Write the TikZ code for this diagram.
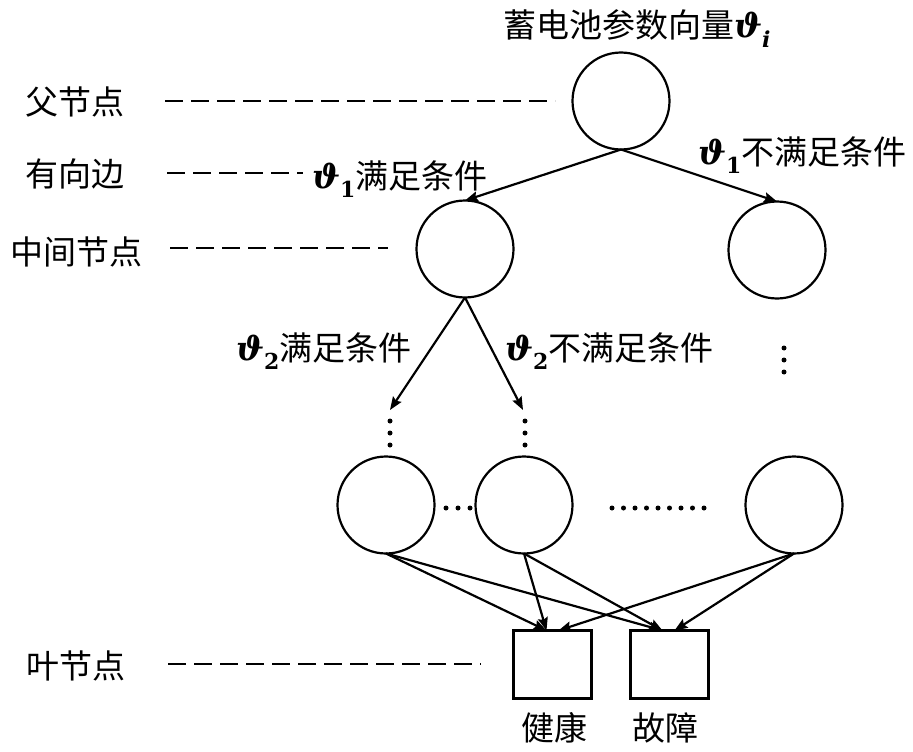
\documentclass[tikz,border=0pt]{standalone}
\usepackage[no-math]{fontspec}
\setmainfont{Noto Sans CJK SC}
\newfontfamily\thetafont{DejaVu Serif}
\newcommand{\thb}[1]{{\thetafont\bfseries\itshape ϑ}\raisebox{-0.3em}{\fontsize{22}{26}\selectfont\thetafont\bfseries #1}}
\usetikzlibrary{arrows.meta,calc}
\begin{document}
\begin{tikzpicture}[x=1pt,y=-1pt,
  every node/.style={inner sep=0pt, outer sep=0pt},
  tnode/.style={circle, draw, line width=2.2pt, minimum size=97pt},
  leafbox/.style={rectangle, draw, line width=2.2pt, minimum width=78pt, minimum height=68pt},
  txt/.style={font=\fontsize{33}{40}\selectfont},
  edge/.style={line width=2.2pt, -{Stealth[length=13pt,width=10pt,inset=2pt]}},
  guide/.style={line width=2.2pt, dash pattern=on 18pt off 8pt},
  dotmark/.style={circle, fill, minimum size=5pt}
]
\useasboundingbox (0,0) rectangle (913,752);

% tree nodes
\node[tnode] (root) at (621,101) {};
\node[tnode] (m1) at (465,249) {};
\node[tnode] (m2) at (777,250) {};
\node[tnode] (b1) at (386,505) {};
\node[tnode] (b2) at (524,505) {};
\node[tnode] (b3) at (794,505) {};
\node[leafbox] (leaf1) at (552.5,664.5) {};
\node[leafbox] (leaf2) at (669.5,664.5) {};

% texts
\node[txt, anchor=base west] (title) at (503,38) {蓄电池参数向量\thb{\itshape i}};
\node[txt] (lfu) at (75,102) {父节点};
\node[txt] (lyou) at (75,174) {有向边};
\node[txt] (lzhong) at (76,252) {中间节点};
\node[txt] (lye) at (76,666) {叶节点};
\node[txt] (tjk) at (554,728) {健康};
\node[txt] (tgz) at (665,728) {故障};
\node[txt, anchor=base west] (e1) at (312,188) {\thb{1}满足条件};
\node[txt, anchor=base west] (e2) at (698,164) {\thb{1}不满足条件};
\node[txt, anchor=base west] (e3) at (236,360) {\thb{2}满足条件};
\node[txt, anchor=base west] (e4) at (505,360) {\thb{2}不满足条件};

% guide dashes
\coordinate (g1a) at (165,101); \coordinate (g1b) at (555,101);
\coordinate (g2a) at (167,173); \coordinate (g2b) at (303,173);
\coordinate (g3a) at (170,248); \coordinate (g3b) at (388,248);
\coordinate (g4a) at (168,664); \coordinate (g4b) at (481,664);
\draw[guide] (g1a) -- (g1b);
\draw[guide] (g2a) -- (g2b);
\draw[guide] (g3a) -- (g3b);
\draw[guide] (g4a) -- (g4b);

% edges
\draw[edge] (root.south) -- (m1.north);
\draw[edge] (root.south) -- (m2.north);
\coordinate (d1) at (390,410);
\coordinate (d2) at (523,410);
\draw[edge] (m1.south) -- (d1);
\draw[edge] (m1.south) -- (d2);

\coordinate (l1a) at ($(leaf1.north)+(-6,0)$);
\coordinate (l1b) at ($(leaf1.north)+(6,0)$);
\coordinate (l2a) at ($(leaf2.north)+(-7,0)$);
\coordinate (l2b) at ($(leaf2.north)+(5,0)$);
\draw[edge] (b1.south) -- (l1a);
\draw[edge] (b1.south) -- (l2a);
\draw[edge] (b2.south) -- (l1a);
\draw[edge] (b2.south) -- (l2a);
\draw[edge] (b3.south) -- (l1b);
\draw[edge] (b3.south) -- (l2b);

% dots
\foreach \yy in {421,433,445} {
  \node[dotmark] at (390,\yy) {};
  \node[dotmark] at (525,\yy) {};
}
\foreach \yy in {348,360,372} { \node[dotmark] at (784,\yy) {}; }
\foreach \xx in {446,458,470} { \node[dotmark] at (\xx,508) {}; }
\foreach \i in {0,...,8} { \node[dotmark] at ({612+11.5*\i},508) {}; }
\end{tikzpicture}
\end{document}
